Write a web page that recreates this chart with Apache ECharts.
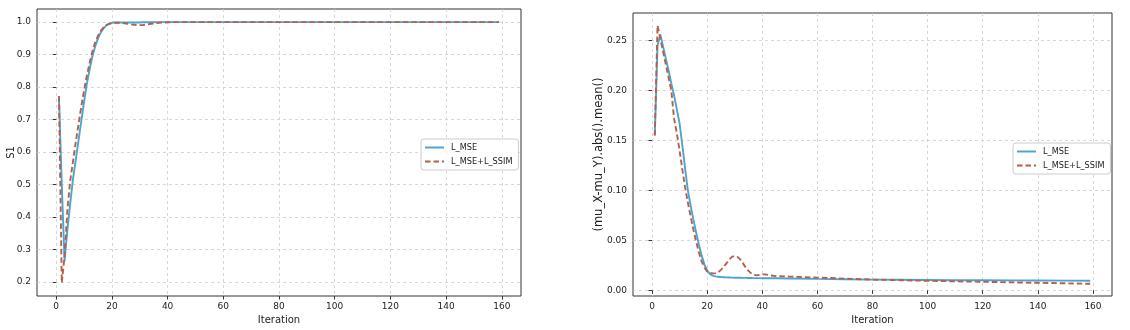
<!DOCTYPE html>
<html>
<head>
<meta charset="utf-8">
<script src="https://cdn.jsdelivr.net/npm/echarts@6/dist/echarts.min.js"></script>
<style>
html,body{margin:0;padding:0;background:#fff;}
#c{width:1130px;height:330px;}
</style>
</head>
<body>
<div id="c"></div>
<script>
// Iterations sampled (dense early, sparse in the flat tail)
const iterations = [1,2,3,4,5,6,7,8,9,10,11,12,13,14,15,16,17,18,19,20,21,22,23,24,25,26,27,28,29,30,
  31,32,33,34,35,36,37,38,39,40,41,42,43,44,45,50,60,70,80,90,100,110,120,130,140,150,159];

// Left panel: S1
const s1_MSE = [0.765,0.50,0.264,0.36,0.44,0.515,0.575,0.635,0.695,0.755,0.81,0.855,0.895,0.925,0.95,0.968,0.981,0.99,0.995,0.998,
  0.999,0.999,0.999,0.999,0.999,0.999,0.999,0.999,0.999,0.999,
  0.9995,0.9995,0.9995,0.9995,0.9995,1.0,1.0,1.0,1.0,1.0,1.0,1.0,1.0,1.0,1.0,
  1.0,1.0,1.0,1.0,1.0,1.0,1.0,1.0,1.0,1.0,1.0,1.0];
const s1_SSIM = [0.773,0.198,0.28,0.42,0.51,0.57,0.63,0.685,0.74,0.79,0.835,0.875,0.91,0.938,0.958,0.973,0.984,0.991,0.995,0.997,
  0.998,0.998,0.998,0.997,0.996,0.995,0.993,0.992,0.991,0.991,
  0.991,0.992,0.993,0.995,0.996,0.997,0.998,0.999,0.999,0.9995,0.9995,1.0,1.0,1.0,1.0,
  1.0,1.0,1.0,1.0,1.0,1.0,1.0,1.0,1.0,1.0,1.0,1.0];

// Right panel: (mu_X-mu_Y).abs().mean()
const mu_MSE = [0.155,0.245,0.256,0.244,0.232,0.22,0.207,0.195,0.181,0.167,0.145,0.122,0.100,0.085,0.071,0.058,0.046,0.035,0.026,0.020,
  0.0165,0.0148,0.014,0.0137,0.0134,0.0132,0.013,0.0129,0.0128,0.0127,
  0.0126,0.0126,0.0125,0.0125,0.0124,0.0124,0.0123,0.0123,0.0123,0.0122,0.0122,0.0122,0.0121,0.0121,0.0121,
  0.0119,0.0115,0.0112,0.0108,0.0106,0.0104,0.0102,0.0101,0.0100,0.0099,0.0098,0.0097];
const mu_SSIM = [0.155,0.265,0.252,0.239,0.226,0.213,0.200,0.172,0.157,0.14,0.121,0.103,0.088,0.074,0.061,0.049,0.038,0.029,0.023,0.019,
  0.0175,0.017,0.017,0.018,0.0205,0.0235,0.027,0.031,0.0335,0.0344,
  0.0335,0.031,0.027,0.023,0.0195,0.017,0.0155,0.015,0.0155,0.016,0.016,0.0155,0.015,0.0146,0.0143,
  0.0138,0.0128,0.0118,0.0108,0.0102,0.0096,0.0091,0.0086,0.0081,0.0076,0.0071,0.0066];

const xTicks = [0,20,40,60,80,100,120,140,160];
const s1Ticks = [0.2,0.3,0.4,0.5,0.6,0.7,0.8,0.9,1.0];
const muTicks = [0.00,0.05,0.10,0.15,0.20,0.25];

const seriesNames = ['L_MSE','L_MSE+L_SSIM'];
const blue = '#4ba6cf';
const brown = '#b4604b';

function pairs(xs, ys){ return xs.map((x,i)=>[x, ys[i]]); }

const font = 'DejaVu Sans';
const txt = '#222222';

function xAxis(idx){
  return {
    gridIndex: idx, type:'value', min:-6.9, max:166.9,
    name:'Iteration', nameLocation:'middle', nameGap:19, nameMoveOverlap:false,
    nameTextStyle:{fontFamily:font,fontSize:10,color:txt},
    axisLine:{show:false},
    axisTick:{show:true,inside:false,length:3.5,lineStyle:{color:'#333',width:1},customValues:xTicks},
    axisLabel:{fontFamily:font,fontSize:9,color:txt,margin:6,customValues:xTicks,formatter:v=>String(Math.round(v))},
    splitLine:{show:true,lineStyle:{color:'#cfcfcf',type:[3,3],width:0.8}}
  };
}
function yAxis(idx, min, max, ticks, dec, name, gap, nameSize){
  return {
    gridIndex: idx, type:'value', min:min, max:max,
    name:name, nameLocation:'middle', nameGap:gap, nameRotate:90, nameMoveOverlap:false,
    nameTextStyle:{fontFamily:font,fontSize:nameSize,color:txt},
    axisLine:{show:false},
    axisTick:{show:true,inside:false,length:3.5,lineStyle:{color:'#333',width:1},customValues:ticks},
    axisLabel:{fontFamily:font,fontSize:9,color:txt,margin:6,customValues:ticks,formatter:v=>v.toFixed(dec)},
    splitLine:{show:true,lineStyle:{color:'#cfcfcf',type:[3,3],width:0.8}}
  };
}
function line(name, data, xi, color, dashed){
  return {
    name:name, type:'line', xAxisIndex:xi, yAxisIndex:xi, data:data,
    showSymbol:false, symbol:'none', smooth:false, animation:false,
    lineStyle:{color:color,width:1.9,type:dashed?[5.5,3]:'solid'},
    itemStyle:{color:color}, z: dashed?3:2
  };
}
function legend(left, top){
  return {
    data:seriesNames, orient:'vertical', left:left, top:top,
    padding:[3,6,3,3], itemGap:3, itemWidth:19, itemHeight:8,
    backgroundColor:'rgba(255,255,255,0.85)', borderColor:'#cccccc', borderWidth:1, borderRadius:3,
    itemStyle:{color:'rgba(0,0,0,0)', borderColor:'rgba(0,0,0,0)', borderWidth:0, opacity:0},
    textStyle:{fontFamily:font,fontSize:8.2,color:txt,lineHeight:11,padding:[0,0,0,2]}
  };
}

const chart = echarts.init(document.getElementById('c'), null, {renderer:'canvas'});
chart.setOption({
  animation:false,
  backgroundColor:'#fff',
  grid:[
    {left:37, top:9, width:484, height:289, show:true, borderColor:'#333', borderWidth:1, backgroundColor:'transparent'},
    {left:633, top:13, width:479, height:285, show:true, borderColor:'#333', borderWidth:1, backgroundColor:'transparent'}
  ],
  xAxis:[xAxis(0), xAxis(1)],
  yAxis:[
    yAxis(0, 0.157, 1.0405, s1Ticks, 1, 'S1', 21, 10),
    yAxis(1, -0.0056, 0.2774, muTicks, 2, '(mu_X-mu_Y).abs().mean()', 28, 11.5)
  ],
  legend:[legend(421,139), legend(1013,143)],
  series:[
    line(seriesNames[0], pairs(iterations, s1_MSE), 0, blue, false),
    line(seriesNames[1], pairs(iterations, s1_SSIM), 0, brown, true),
    line(seriesNames[0], pairs(iterations, mu_MSE), 1, blue, false),
    line(seriesNames[1], pairs(iterations, mu_SSIM), 1, brown, true)
  ]
});
</script>
</body>
</html>
